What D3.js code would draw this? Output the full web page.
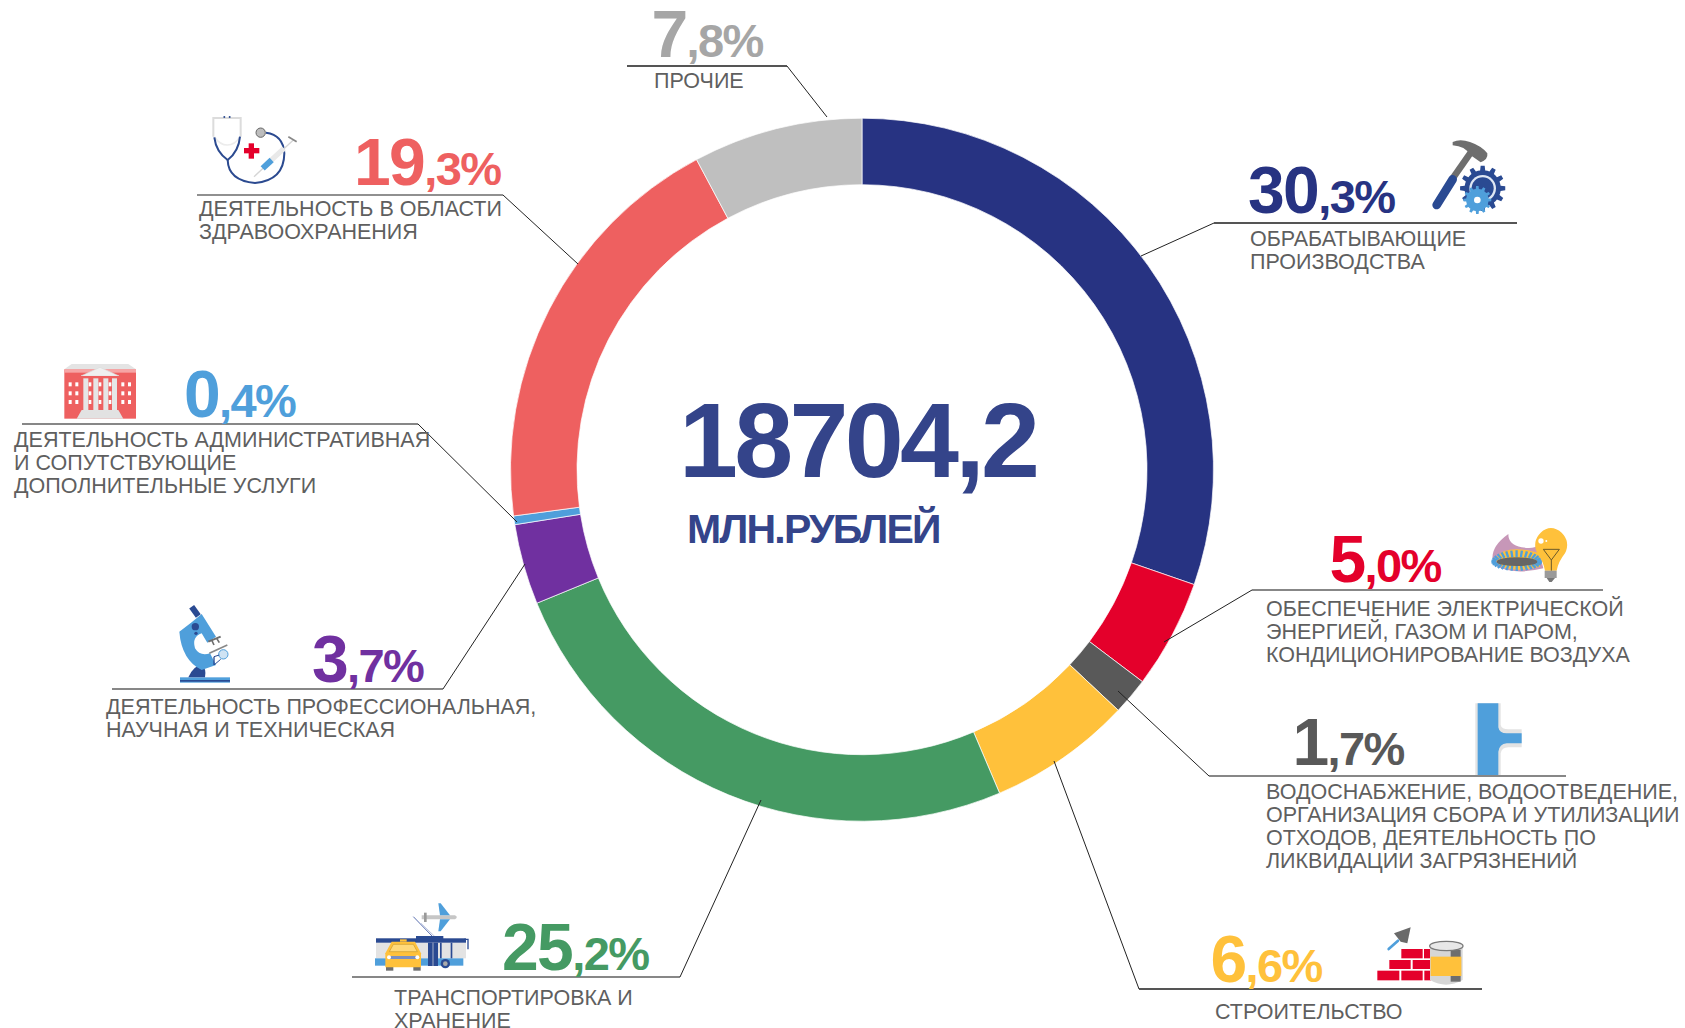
<!DOCTYPE html>
<html><head><meta charset="utf-8">
<script src="https://cdn.jsdelivr.net/npm/d3@7/dist/d3.min.js"></script>
<style>html,body{margin:0;padding:0;background:#fff;overflow:hidden}svg{display:block}text{font-family:"Liberation Sans",Arial,sans-serif}</style>
</head><body><svg id="c" width="1685" height="1028"></svg>
<script>
const categories=[["ОБРАБАТЫВАЮЩИЕ","ПРОИЗВОДСТВА"],["ОБЕСПЕЧЕНИЕ ЭЛЕКТРИЧЕСКОЙ","ЭНЕРГИЕЙ, ГАЗОМ И ПАРОМ,","КОНДИЦИОНИРОВАНИЕ ВОЗДУХА"],["ВОДОСНАБЖЕНИЕ, ВОДООТВЕДЕНИЕ,","ОРГАНИЗАЦИЯ СБОРА И УТИЛИЗАЦИИ","ОТХОДОВ, ДЕЯТЕЛЬНОСТЬ ПО","ЛИКВИДАЦИИ ЗАГРЯЗНЕНИЙ"],["СТРОИТЕЛЬСТВО"],["ТРАНСПОРТИРОВКА И","ХРАНЕНИЕ"],["ДЕЯТЕЛЬНОСТЬ ПРОФЕССИОНАЛЬНАЯ,","НАУЧНАЯ И ТЕХНИЧЕСКАЯ"],["ДЕЯТЕЛЬНОСТЬ АДМИНИСТРАТИВНАЯ","И СОПУТСТВУЮЩИЕ","ДОПОЛНИТЕЛЬНЫЕ УСЛУГИ"],["ДЕЯТЕЛЬНОСТЬ В ОБЛАСТИ","ЗДРАВООХРАНЕНИЯ"],["ПРОЧИЕ"]];
const values=[30.3,5.0,1.7,6.6,25.2,3.7,0.4,19.3,7.8];
const colors=["#273382","#e4002b","#595959","#ffc13b","#459a63","#7030a0","#4f9fdb","#ee6060","#bfbfbf"];
const valueColors=["#273382","#e4002b","#595959","#ffc13b","#459a63","#7030a0","#4f9fdb","#ee6060","#a6a6a6"];
const ruleColors=["#555","#111","#111","#555","#111","#111","#111","#222","#555"];
const total="18704,2", unit="МЛН.РУБЛЕЙ";
// layout: [big x, big baseline, label x, label baseline, rule x0, rule x1, rule y, end x, end y]
const layout=[
[1248,213,1250,246,1214,1517,223,1141,256],
[1329.5,582,1266,616,1252,1603,590,1164,642],
[1292.5,765,1266,799,1209,1566,776,1118,691],
[1210.5,982,1215,1019,1139,1482,989,1054,761],
[502,970,394,1005,352,680,977,761,800],
[312,682,106,714,112,443,689,525,564],
[184,417,14,447,22,418,424,517,522],
[354,185,199,216,197,503,195,578,264],
[651.5,57,654,88,627,787,66,827,117]];
const svg=d3.select("#c");
const cx=862,cy=469.7;
const pie=d3.pie().sort(null).value(d=>d)(values);
const arc=d3.arc().innerRadius(285).outerRadius(351.5);
svg.append("g").attr("transform",`translate(${cx},${cy})`).selectAll("path").data(pie).join("path").attr("d",arc).attr("fill",(d,i)=>colors[i]).attr("stroke","#fff").attr("stroke-width",0.7);
// leaders
const lead=svg.append("g").attr("fill","none");
layout.forEach((d,i)=>{
 lead.append("line").attr("x1",d[4]).attr("x2",d[5]).attr("y1",d[6]).attr("y2",d[6]).attr("stroke",ruleColors[i]).attr("stroke-width",ruleColors[i]=="#555"?1.8:1.2);
 lead.append("line").attr("x1",i<4?d[4]:d[5]).attr("y1",d[6]).attr("x2",d[7]).attr("y2",d[8]).attr("stroke","#222").attr("stroke-width",1);
});
// percent labels
values.forEach((v,i)=>{
 const [a,b]=v.toFixed(1).split(".");
 const t=svg.append("text").attr("x",layout[i][0]).attr("y",layout[i][1]).attr("fill",valueColors[i]).attr("font-weight",700).attr("letter-spacing",-1.6);
 t.append("tspan").attr("font-size",66).text(a);
 t.append("tspan").attr("font-size",47).text(","+b+"%");
 categories[i].forEach((l,j)=>svg.append("text").attr("x",layout[i][2]).attr("y",layout[i][3]+j*23.1).attr("font-size",21.5).attr("fill","#5f5f5f").text(l));
});
svg.append("text").attr("x",679).attr("y",477).attr("font-size",106).attr("font-weight",700).attr("fill","#34448a").attr("letter-spacing",-3.7).text(total);
svg.append("text").attr("x",687).attr("y",543).attr("font-size",41).attr("font-weight",700).attr("fill","#34448a").attr("letter-spacing",-1.75).text(unit);

// icons, drawn in 3x local coordinates
const ic=(x,y)=>svg.append("g").attr("transform",`translate(${x},${y}) scale(${1/3})`);
const P=(g,d,f,s,w)=>g.append("path").attr("d",d).attr("fill",f||"none").attr("stroke",s||"none").attr("stroke-width",w||0);
const R=(g,x,y,w,h,f)=>g.append("rect").attr("x",x).attr("y",y).attr("width",w).attr("height",h).attr("fill",f);
const C=(g,x,y,r,f,s,w)=>g.append("circle").attr("cx",x).attr("cy",y).attr("r",r).attr("fill",f).attr("stroke",s||"none").attr("stroke-width",w||0);
const L=(g,a,b,c,d,s,w,cap)=>g.append("line").attr("x1",a).attr("y1",b).attr("x2",c).attr("y2",d).attr("stroke",s).attr("stroke-width",w).attr("stroke-linecap",cap||"butt");
function gear(g,x,y,r,n,f){let d="";const t=2*Math.PI/n;for(let k=0;k<n;k++){const a=k*t;const pts=[[r*.8,a-t*.5],[r*.8,a-t*.27],[r,a-t*.17],[r,a+t*.17],[r*.8,a+t*.27]];pts.forEach((q,m)=>{d+=(k==0&&m==0?"M":"L")+(x+q[0]*Math.cos(q[1]))+","+(y+q[0]*Math.sin(q[1]))});}P(g,d+"Z",f);}

// stethoscope
let g=ic(180,90);
P(g,"M100,140 L100,84 L182,84 L182,140","none","#dcdcdc",6);
P(g,"M103,140 Q120,165 142,165 Q165,165 180,140","none","#ececec",5);
P(g,"M103,142 Q108,185 143,210 Q176,185 180,140","none","#2b4a90",6);
P(g,"M143,210 Q145,272 225,279 Q312,272 313,190 Q310,135 258,128","none","#2b4a90",6);
C(g,133,81,3,"#2b4a90");C(g,149,81,3,"#2b4a90");
C(g,242,128,14,"#bdbdbd","#666",3);
R(g,206,160,16,46,"#e4002b");R(g,192,174,46,16,"#e4002b");
L(g,222,260,340,150,"#d5d5d5",4);L(g,255,228,312,175,"#e9e9e9",16);
L(g,248,235,275,210,"#4f9fdb",18);L(g,325,140,350,155,"#888",5);
// hammer + gears
g=ic(1230,120);
L(g,668,175,722,98,"#6e6e6e",20);
P(g,"M668,66 Q690,56 720,66 Q755,78 772,100 Q775,118 752,127 L722,106 Q705,78 668,76Z","#6e6e6e");
L(g,620,255,668,178,"#2a4a92",26,"round");
gear(g,758,205,68,12,"#2a4a92");
C(g,758,205,40,"#dfe7f3");C(g,758,205,33,"#2a4a92");
gear(g,742,240,42,12,"#4f9fdb");C(g,742,240,10,"#fff");
// building
g=ic(0,350);
R(g,193,58,215,148,"#ee6060");
P(g,"M193,58 L215,42 L385,42 L408,58Z","#e4e4e4");
R(g,193,58,215,10,"#f6a5a5");
P(g,"M243,78 L300,52 L357,78Z","#f0f0f0","#ddd",2);
R(g,243,78,114,100,"#ee6060");
[250,280,310,336].forEach(x=>R(g,x,85,15,95,"#e6e6e6"));
P(g,"M230,206 L245,180 L355,180 L370,206Z","#e2e2e2");
[206,226,364,384].forEach(x=>[97,124,150].forEach(y=>R(g,x,y,9,12,"#fff")));
[268,298,328].forEach(x=>[97,124,150].forEach(y=>R(g,x-2,y,8,12,"#fff")));
// microscope
g=ic(90,590);
R(g,270,262,150,16,"#4f9fdb");R(g,270,270,150,5,"#2a4a92");
P(g,"M295,262 Q312,225 335,226 Q350,235 345,262Z","#2a4a92");
L(g,305,50,325,78,"#2a4a92",18);
P(g,"M268,125 L305,97 L335,72 L378,140 L352,158 L335,130 Q305,140 315,175 Q330,200 360,190 L378,225 L335,240 Q275,210 268,125Z","#4f9fdb");
C(g,316,110,11,"#2a4a92");C(g,318,130,5,"#2a4a92");
L(g,355,155,392,140,"#6e6e6e",6);L(g,365,150,372,165,"#6e6e6e",5);L(g,380,145,388,158,"#6e6e6e",5);
L(g,358,190,412,165,"#888",5);
C(g,400,193,14,"#cfe3f3","#4f9fdb",3);L(g,372,200,372,225,"#2a4a92",4);L(g,372,200,388,195,"#2a4a92",3);L(g,372,225,392,208,"#2a4a92",3);
// flame + bulb
g=ic(1250,510);
P(g,"M728,150 Q722,110 775,72 Q775,105 815,112 Q855,118 862,105 L880,175 Q800,195 745,172 Q730,162 728,150Z","#c797b8");
P(g,"M735,145 Q760,110 830,120 L870,130 L870,170 Q790,190 745,165Z","#ffc13b");
d3.range(0,15).forEach(k=>{const a=Math.PI*(1.03+k*0.067);L(g,800+62*Math.cos(a),155+14*Math.sin(a),800+76*Math.cos(a),155+34*Math.sin(a),"#4f9fdb",7);
 const b=Math.PI*(.03+k*0.067);L(g,800+62*Math.cos(b),155+12*Math.sin(b),800+76*Math.cos(b),155+28*Math.sin(b),"#4f9fdb",7);});
P(g,"M740,155 A60,13 0 1 1 862,155 A60,13 0 1 1 740,155Z","#666");
P(g,"M885,182 Q880,155 862,130 Q845,95 872,68 Q902,40 935,68 Q962,95 945,130 Q925,155 920,182Z","#ffc13b");
R(g,884,182,36,22,"#9a9a9a");P(g,"M890,204 L915,204 L905,216 L898,216Z","#777");
P(g,"M880,118 L928,118 L904,150Z M904,150 L904,182","none","#6b5a2a",3);
C(g,873,93,8,"#fff");C(g,889,93,3,"#fff");
// pipe
g=ic(1250,690);
P(g,"M676,40 L752,40 L752,105 Q755,118 775,118 L815,118 L815,172 L775,172 Q755,172 752,190 L752,255 L676,255Z","#e3e3e3");
P(g,"M683,40 L745,40 L745,112 Q748,130 770,130 L815,130 L815,160 L770,160 Q748,162 745,185 L745,255 L683,255Z","#4f9fdb");
// bus + plane
g=ic(340,890);
L(g,220,80,278,140,"#5a6fb0",3);L(g,243,100,290,145,"#9aa7cf",2);
P(g,"M245,76 L345,76 Q356,81 345,88 L245,88Z","#c6c6c6");P(g,"M252,68 L260,68 L260,96 L252,96Z","#999");
P(g,"M295,40 L302,40 L330,76 L300,76Z","#4f9fdb");P(g,"M295,124 L302,124 L330,88 L300,88Z","#4f9fdb");
R(g,108,145,270,60,"#e3e3e3");R(g,108,145,270,13,"#2a4a92");R(g,228,138,82,12,"#2a4a92");
R(g,105,205,265,22,"#4f9fdb");R(g,264,158,30,70,"#2a4a92");L(g,279,158,279,228,"#e3e3e3",2);
R(g,300,158,5,47,"#2a4a92");R(g,332,158,5,47,"#2a4a92");
P(g,"M372,148 L384,148 L384,178","none","#2a4a92",4);
C(g,316,221,14,"#2a4a92");C(g,316,221,7,"#aaa");
R(g,138,226,22,16,"#6e6e6e");R(g,220,226,22,16,"#6e6e6e");
P(g,"M136,190 L155,155 L225,155 L243,190 L243,232 L136,232Z","#ffc13b");
P(g,"M148,185 L160,163 L220,163 L232,185Z","#ffd97a","#c89a2c",2);
R(g,180,148,20,7,"#ffc13b");
R(g,150,198,82,9,"#7a8fc0");C(g,147,202,6,"#fff");C(g,232,202,6,"#fff");
// bricks + can
g=ic(1190,900);
P(g,"M612,100 L662,82 L652,130 L632,125Z","#6a6a6a");L(g,596,147,624,122,"#4f9fdb",8,"round");
[[634,147,64,28],[702,147,18,28],[598,180,64,27],[668,180,52,27],[562,212,66,29],[634,212,64,29],[703,212,20,29]].forEach(b=>R(g,b[0],b[1],b[2],b[3],"#e4002b"));
P(g,"M720,138 L720,240 Q768,268 818,240 L818,138Z","#d6d6d6");
R(g,782,150,30,95,"#6e6e6e");
R(g,722,170,92,58,"#ffc13b");
g.append("ellipse").attr("cx",769).attr("cy",138).attr("rx",50).attr("ry",14).attr("fill","#e8e8e8").attr("stroke","#7a7a7a").attr("stroke-width",4);
</script></body></html>
